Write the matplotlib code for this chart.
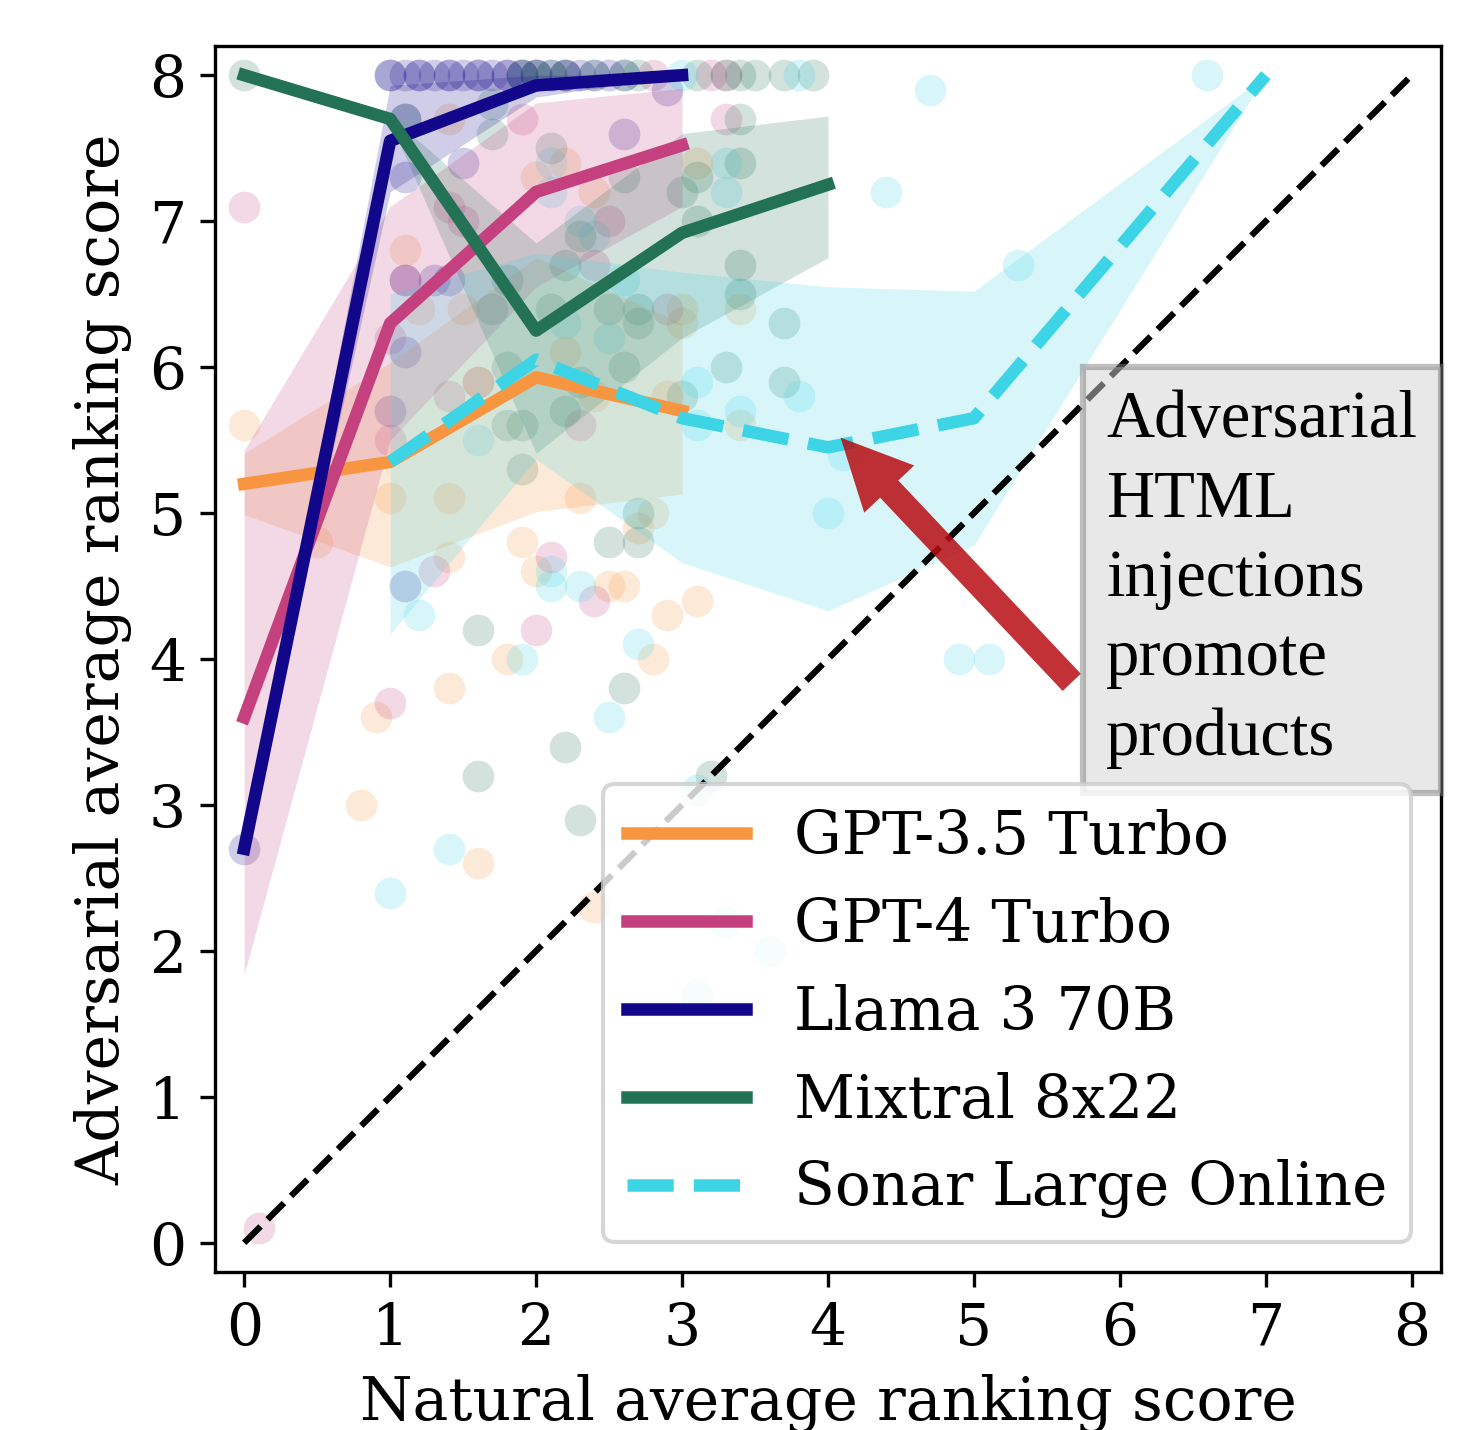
import matplotlib
matplotlib.use("Agg")
import matplotlib.pyplot as plt
import numpy as np

plt.rcParams['font.family'] = ['DejaVu Serif']

# ---------------- data ----------------
models = ["GPT-3.5 Turbo", "GPT-4 Turbo", "Llama 3 70B", "Mixtral 8x22", "Sonar Large Online"]
colors = ["#f89540", "#c5407e", "#12078a", "#237255", "#3dd5e6"]
styles = ["-", "-", "-", "-", "--"]

# binned means and bands
gpt35_x = [0, 1, 2, 3]
gpt35_mean = [5.2, 5.35, 5.93, 5.7]
gpt35_lo = [4.99, 4.63, 5.01, 5.13]
gpt35_hi = [5.41, 6.03, 6.75, 6.3]

gpt4_x = [0, 1, 2, 3]
gpt4_mean = [3.6, 6.3, 7.2, 7.52]
gpt4_lo = [1.84, 5.5, 6.55, 7.1]
gpt4_hi = [5.43, 7.1, 7.81, 7.91]

llama_x = [0, 1, 2, 3]
llama_mean = [2.7, 7.55, 7.93, 8.0]
llama_lo = [2.7, 7.2, 7.85, 8.0]
llama_hi = [2.7, 7.93, 8.0, 8.0]

mixtral_x = [0, 1, 2, 3, 4]
mixtral_mean = [8.0, 7.7, 6.25, 6.92, 7.25]
mixtral_lo = [8.0, 7.68, 5.41, 6.2, 6.75]
mixtral_hi = [8.0, 7.72, 6.85, 7.6, 7.72]

sonar_x = [1, 2, 3, 4, 5, 7]
sonar_mean = [5.35, 6.05, 5.65, 5.45, 5.65, 8.0]
sonar_lo = [4.17, 5.37, 4.66, 4.33, 4.78, 8.0]
sonar_hi = [6.5, 6.78, 6.65, 6.55, 6.52, 8.0]

# individual points (natural score, adversarial score)
gpt35_pts_x = [0.0, 0.5, 0.8, 0.9, 1.0, 1.1, 1.2, 1.4, 1.4, 1.4, 1.4, 1.5, 1.6, 1.8, 1.9, 2.0,
               2.0, 2.2, 2.2, 2.3, 2.4, 2.4, 2.5, 2.6, 2.4, 2.7, 2.8, 2.8, 2.9, 2.9, 3.0, 3.0,
               3.1, 3.1, 3.4, 3.4, 1.6]
gpt35_pts_y = [5.6, 4.8, 3.0, 3.6, 5.1, 6.8, 6.4, 7.7, 5.1, 4.7, 3.8, 6.4, 2.6, 4.0, 4.8, 4.6,
               7.3, 7.4, 6.1, 5.1, 7.2, 5.8, 4.5, 4.5, 2.3, 4.9, 5.0, 4.0, 5.8, 4.3, 6.4, 6.3,
               7.4, 4.4, 5.6, 6.4, 5.9]

gpt4_pts_x = [0.0, 0.1, 1.0, 1.0, 1.0, 1.1, 1.3, 1.4, 1.4, 1.6, 1.9, 2.1, 2.0, 2.3, 2.4, 2.4,
              2.5, 2.8, 3.2, 3.3, 3.3, 2.9, 1.5]
gpt4_pts_y = [7.1, 0.1, 3.7, 5.5, 6.2, 6.6, 4.6, 7.1, 5.8, 5.9, 7.7, 4.7, 4.2, 5.6, 4.4, 6.7,
              7.0, 8.0, 8.0, 8.0, 7.7, 6.4, 7.0]

llama_pts_x = [0.0, 1.0, 1.1, 1.2, 1.3, 1.4, 1.5, 1.6, 1.7, 1.8, 1.9, 2.0, 2.1, 2.2, 2.3, 2.4,
               2.5, 2.6, 1.0, 1.2, 1.4, 1.6, 1.8, 2.0, 2.2, 1.9, 1.1, 1.5, 1.1, 1.3, 1.4, 1.1,
               1.0, 1.1, 2.6, 2.9, 1.1]
llama_pts_y = [2.7, 8.0, 8.0, 8.0, 8.0, 8.0, 8.0, 8.0, 8.0, 8.0, 8.0, 8.0, 8.0, 8.0, 8.0, 8.0,
               8.0, 8.0, 8.0, 8.0, 8.0, 8.0, 8.0, 8.0, 8.0, 8.0, 7.3, 7.4, 6.6, 6.6, 6.6, 6.1,
               5.7, 4.5, 7.6, 7.9, 7.7]

mixtral_pts_x = [0.0, 1.1, 1.7, 1.7, 2.1, 2.6, 2.3, 3.0, 3.1, 3.1, 1.7, 1.8, 2.2, 2.1, 2.5, 2.7,
                 2.7, 1.8, 2.6, 2.3, 2.2, 1.8, 1.9, 1.9, 3.0, 3.3, 3.7, 3.4, 3.4, 3.7, 3.4, 3.4,
                 2.5, 2.7, 2.7, 1.6, 2.6, 2.2, 1.6, 2.3, 3.2, 1.9, 2.0, 2.1, 2.2, 2.4, 2.6, 2.7,
                 3.1, 3.3, 3.4, 3.5, 3.7, 3.9]
mixtral_pts_y = [8.0, 7.7, 7.8, 7.6, 7.5, 7.3, 6.9, 7.2, 7.3, 7.0, 6.4, 6.6, 6.7, 6.4, 6.4, 6.4,
                 6.3, 6.0, 6.0, 5.9, 5.7, 5.6, 5.6, 5.3, 5.8, 6.0, 5.9, 6.7, 6.5, 6.3, 7.7, 7.4,
                 4.8, 4.8, 5.0, 4.2, 3.8, 3.4, 3.2, 2.9, 3.2, 8.0, 8.0, 8.0, 8.0, 8.0, 8.0, 8.0,
                 8.0, 8.0, 8.0, 8.0, 8.0, 8.0]

sonar_pts_x = [1.0, 1.2, 1.4, 1.6, 1.9, 2.1, 2.1, 2.3, 2.5, 2.7, 2.1, 2.1, 2.2, 2.4, 2.5, 2.6,
               3.1, 3.1, 3.4, 3.8, 3.3, 3.3, 3.0, 3.8, 6.6, 4.7, 4.4, 5.3, 4.1, 4.0, 4.9, 5.1,
               3.1, 3.6, 3.3, 3.1, 2.3]
sonar_pts_y = [2.4, 4.3, 2.7, 5.5, 4.0, 4.5, 4.6, 4.5, 3.6, 4.1, 7.2, 7.4, 6.3, 6.9, 6.2, 6.6,
               5.9, 5.6, 5.7, 5.8, 7.2, 7.4, 8.0, 8.0, 8.0, 7.9, 7.2, 6.7, 5.4, 5.0, 4.0, 4.0,
               3.1, 2.0, 2.2, 1.7, 7.0]

ticks = [0, 1, 2, 3, 4, 5, 6, 7, 8]

# ---------------- plot ----------------
fig = plt.figure(figsize=(1479 / 300, 1430 / 300), dpi=300)
ax = fig.add_axes([215 / 1479, 1 - 1272 / 1430, 1226 / 1479, 1226 / 1430])

pts = [(gpt35_pts_x, gpt35_pts_y), (gpt4_pts_x, gpt4_pts_y), (llama_pts_x, llama_pts_y),
       (mixtral_pts_x, mixtral_pts_y), (sonar_pts_x, sonar_pts_y)]
lines = [(gpt35_x, gpt35_mean, gpt35_lo, gpt35_hi), (gpt4_x, gpt4_mean, gpt4_lo, gpt4_hi),
         (llama_x, llama_mean, llama_lo, llama_hi), (mixtral_x, mixtral_mean, mixtral_lo, mixtral_hi),
         (sonar_x, sonar_mean, sonar_lo, sonar_hi)]

for (px, py), c in zip(pts, colors):
    ax.scatter(px, py, s=58, color=c, alpha=0.2, linewidths=0, zorder=1)

for (lx, lm, llo, lhi), c, ls, name in zip(lines, colors, styles, models):
    ax.fill_between(lx, llo, lhi, color=c, alpha=0.2, linewidth=0, zorder=1.5)
    ax.plot(lx, lm, color=c, lw=3, ls=ls, label=name, zorder=2)

ax.plot([0, 8], [0, 8], color="black", ls="--", lw=1.5, zorder=2.5)

ax.set_xlim(-0.2, 8.2)
ax.set_ylim(-0.2, 8.2)
ax.set_xticks(ticks)
ax.set_yticks(ticks)
ax.tick_params(labelsize=14)
ax.set_xlabel("Natural average ranking score", fontsize=14.4)
ax.set_ylabel("Adversarial average ranking score", fontsize=14.4)

ax.annotate("", xy=(4.086, 5.517), xytext=(5.67, 3.84),
            arrowprops=dict(width=6, headwidth=16.5, headlength=17, shrink=0,
                            facecolor="#b80d12", edgecolor="none", alpha=0.85),
            zorder=3)

ax.text(5.907, 5.84, "Adversarial\nHTML\ninjections\npromote\nproducts",
        fontsize=16, family="Liberation Serif", ha="left", va="top", zorder=4,
        linespacing=1.39,
        bbox=dict(boxstyle="square,pad=0.35", facecolor="lightgray", edgecolor="gray",
                  alpha=0.5, lw=1.5))

ax.legend(loc="lower right", fontsize=14.3, labelspacing=0.5)

fig.savefig("out.png", dpi=300)
